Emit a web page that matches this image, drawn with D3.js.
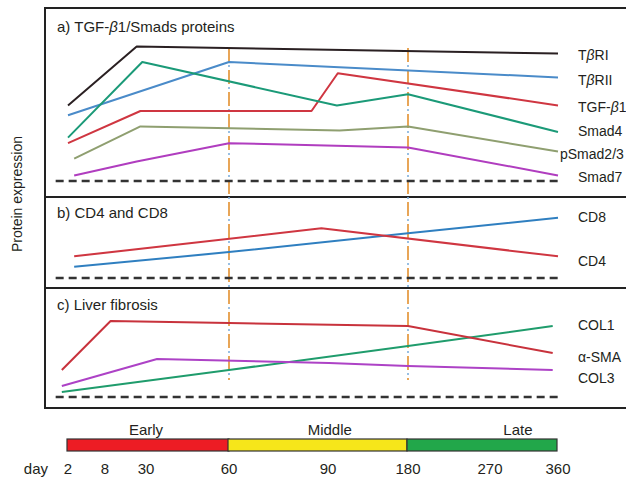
<!DOCTYPE html>
<html>
<head>
<meta charset="utf-8">
<script src="https://cdn.jsdelivr.net/npm/d3@7"></script>
<style>
  body { margin: 0; background: #fff; }
  text { font-family: "Liberation Sans", Arial, sans-serif; fill: #231f20; }
</style>
</head>
<body>
<div id="chart"></div>
<script>
// Days on the time axis
const dayTicks = [2, 8, 30, 60, 90, 180, 270, 360]
const markerDays = [60, 180]

// Phases of the colour bar
const phaseNames = ["Early", "Middle", "Late"]
const phaseBounds = [2, 60, 180, 360]
const phaseLabelDays = [30, 92, 307]

// a) TGF-b1/Smads proteins  [day, relative level]
const tbRI = [[2, 54], [25, 96], [360, 91]]
const tbRII = [[2, 47], [60, 85], [360, 74]]
const tgfb1 = [[2, 27], [27, 50], [85, 50], [101, 77], [360, 54]]
const smad4 = [[2, 31], [28, 85], [100, 54], [180, 62], [360, 35]]
const pSmad23 = [[3, 16], [27, 39], [103, 36], [180, 39], [360, 21]]
const smad7 = [[3, 4], [25, 14], [60, 27], [180, 24], [360, 4]]
const smadNames = ["TβRI", "TβRII", "TGF-β1", "Smad4", "pSmad2/3", "Smad7"]
const smadLabelValues = [90, 72, 53, 36, 19, 3]

// b) CD4 and CD8
const cd8 = [[3, 16], [60, 37], [180, 64], [360, 86]]
const cd4 = [[3, 31], [88, 71], [360, 31]]
const cellNames = ["CD8", "CD4"]
const cellLabelValues = [87, 24]

// c) Liver fibrosis
const col1 = [[1, 5], [60, 27], [180, 51], [353, 71]]
const aSMA = [[1, 27], [11, 76], [60, 74], [180, 71], [353, 44]]
const col3 = [[1, 11], [34, 38], [91, 34], [180, 31], [353, 27]]
const fibrosisNames = ["COL1", "α-SMA", "COL3"]
const fibrosisLabelValues = [72, 40, 19]

// Dimensions
const dimensions = {
    width: 626,
    height: 480,
    frame: { left: 45, top: 8, bottom: 408 }
}

const panels = [
    { title: "a) TGF-β1/Smads proteins", top: 8, bottom: 197, titleY: 32, base: 181, span: 140,
      series: [tbRI, tbRII, tgfb1, smad4, pSmad23, smad7], names: smadNames, labelValues: smadLabelValues,
      colors: ["#2a2022", "#4a8bc9", "#cf3641", "#1b9a78", "#8f9f70", "#b03dbf"],
      labelDx: [20, 20, 20, 20, 2, 20] },
    { title: "b) CD4 and CD8", top: 197, bottom: 288, titleY: 218, base: 278, span: 70,
      series: [cd8, cd4], names: cellNames, labelValues: cellLabelValues,
      colors: ["#2f7fc0", "#cf3641"], labelDx: [20, 20] },
    { title: "c) Liver fibrosis", top: 288, bottom: 408, titleY: 310, base: 397, span: 100,
      series: [col1, aSMA, col3], names: fibrosisNames, labelValues: fibrosisLabelValues,
      colors: ["#1f9c6c", "#c8323c", "#ad42c6"], labelDx: [20, 20, 20] }
]

const phaseColors = ["#ed1c24", "#f6e61a", "#22a74a"]

// Wrapper
const wrapper = d3.select("#chart").append("svg")
    .attr("width", dimensions.width)
    .attr("height", dimensions.height)

// Scales
const xScale = d3.scaleLinear()
    .domain(dayTicks)
    .range([68, 105, 146, 229, 328, 408, 490, 558])

panels.forEach(p => {
    p.yScale = d3.scaleLinear().domain([0, 100]).range([p.base, p.base - p.span])
})

// Text with italic beta
function greekText(sel, str) {
    str.split(/(β)/).filter(s => s.length).forEach(part => {
        sel.append("tspan")
            .style("font-style", part === "β" ? "italic" : "normal")
            .text(part)
    })
}

// Frame
wrapper.append("rect")
    .attr("x", dimensions.frame.left)
    .attr("y", dimensions.frame.top)
    .attr("width", 640)
    .attr("height", dimensions.frame.bottom - dimensions.frame.top)
    .attr("fill", "none")
    .attr("stroke", "#222")
    .attr("stroke-width", 2)

panels.slice(1).forEach(p => {
    wrapper.append("line")
        .attr("x1", dimensions.frame.left).attr("x2", dimensions.width)
        .attr("y1", p.top).attr("y2", p.top)
        .attr("stroke", "#222")
        .attr("stroke-width", 2)
})

// Phase marker lines (dash-dot)
const markerTop = panels[0].yScale(95)
const markerBottom = panels[2].yScale(17)
markerDays.forEach(d => {
    wrapper.append("line")
        .attr("x1", xScale(d)).attr("x2", xScale(d))
        .attr("y1", markerTop).attr("y2", markerBottom)
        .attr("stroke", "#e3902f")
        .attr("stroke-width", 1.6)
        .attr("stroke-dasharray", "14,8")
    wrapper.append("line")
        .attr("x1", xScale(d)).attr("x2", xScale(d))
        .attr("y1", markerTop).attr("y2", markerBottom)
        .attr("stroke", "#7fb0dc")
        .attr("stroke-width", 1.6)
        .attr("stroke-dasharray", "2,20")
        .attr("stroke-dashoffset", -17)
})

const lineGenerator = d3.line()

panels.forEach(p => {
    const y = p.yScale
    lineGenerator.x(d => xScale(d[0])).y(d => y(d[1]))

    // Baseline
    wrapper.append("line")
        .attr("x1", xScale(0)).attr("x2", xScale(360))
        .attr("y1", y(0)).attr("y2", y(0))
        .attr("stroke", "#333")
        .attr("stroke-width", 2.5)
        .attr("stroke-dasharray", "8,5")

    // Title
    greekText(wrapper.append("text")
        .attr("x", 57)
        .attr("y", p.titleY)
        .style("font-size", "15px"), p.title)

    // Lines
    p.series.forEach((s, i) => {
        wrapper.append("path")
            .attr("d", lineGenerator(s))
            .attr("fill", "none")
            .attr("stroke", p.colors[i])
            .attr("stroke-width", 2)
            .attr("stroke-linejoin", "round")
    })

    // Labels
    p.names.forEach((name, i) => {
        greekText(wrapper.append("text")
            .attr("x", xScale(360) + p.labelDx[i])
            .attr("y", y(p.labelValues[i]))
            .attr("dy", "0.35em")
            .style("font-size", "14px"), name)
    })
})

// Y label
wrapper.append("text")
    .attr("transform", "translate(22, 194) rotate(-90)")
    .attr("text-anchor", "middle")
    .style("font-size", "14px")
    .text("Protein expression")

// Colour bar
phaseNames.forEach((name, i) => {
    wrapper.append("rect")
        .attr("x", xScale(phaseBounds[i]) - 1)
        .attr("y", 439)
        .attr("width", xScale(phaseBounds[i + 1]) - xScale(phaseBounds[i]) + (i === 0 ? 1 : 0))
        .attr("height", 12)
        .attr("fill", phaseColors[i])
        .attr("stroke", "#333")
        .attr("stroke-width", 1.2)

    wrapper.append("text")
        .attr("x", xScale(phaseLabelDays[i]))
        .attr("y", 435)
        .attr("text-anchor", "middle")
        .style("font-size", "15px")
        .text(name)
})

// Day ticks
const dayAxis = wrapper.append("g")
dayAxis.append("text")
    .attr("x", xScale(dayTicks[0]) - 20)
    .attr("y", 474)
    .attr("text-anchor", "end")
    .style("font-size", "15px")
    .text("day")
dayAxis.selectAll(".tick")
    .data(dayTicks)
    .join("text")
    .attr("class", "tick")
    .attr("x", d => xScale(d))
    .attr("y", 474)
    .attr("text-anchor", "middle")
    .style("font-size", "15px")
    .text(d => d)
</script>
</body>
</html>
